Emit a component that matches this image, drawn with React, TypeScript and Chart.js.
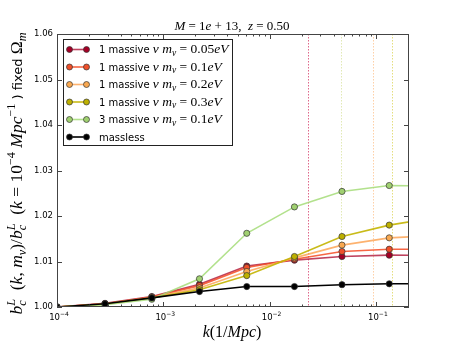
import React, { useEffect, useRef } from 'react';
import { Chart, registerables } from 'chart.js';

Chart.register(...registerables);

// ---- data ----
const kValues = [1e-4, 2.83e-4, 7.8e-4, 2.19e-3, 6.1e-3, 1.714e-2, 4.8e-2, 1.336e-1, 3.73e-1];
const nu1_005 = [1.0, 1.0008, 1.0023, 1.005, 1.009, 1.0103, 1.0111, 1.0114, 1.0113];
const nu1_01 = [1.0, 1.0007, 1.0022, 1.0047, 1.0087, 1.0105, 1.0122, 1.0127, 1.0127];
const nu1_02 = [1.0, 1.0007, 1.0021, 1.0042, 1.0078, 1.0108, 1.0136, 1.0152, 1.0157];
const nu1_03 = [1.0, 1.0006, 1.002, 1.0038, 1.0069, 1.0111, 1.0155, 1.018, 1.0197];
const nu3_01 = [1.0, 1.0005, 1.0017, 1.0062, 1.0162, 1.022, 1.0254, 1.0267, 1.0266];
const massless = [1.0, 1.0007, 1.002, 1.0034, 1.0045, 1.0045, 1.0049, 1.0051, 1.0051];

const nuCounts = ['1', '1', '1', '1', '3'];
const nuMasses = ['0.05', '0.1', '0.2', '0.3', '0.1'];
const freeStreamK = [0.0232, 0.0469, 0.0939, 0.142];
const yTickValues = [1.0, 1.01, 1.02, 1.03, 1.04, 1.05, 1.06];
const xMajorExps = [-4, -3, -2, -1];
const X_MIN = 1e-4;
const X_MAX = 0.205;
const Y_MIN = 1.0;
const Y_MAX = 1.06;

// ---- styles ----
const SANS = '"DejaVu Sans", sans-serif';
const SERIF = '"Liberation Serif", serif';
const seriesValues = [nu1_005, nu1_01, nu1_02, nu1_03, nu3_01, massless];
const lineColors = [
  'rgba(175,20,55,0.8)',
  'rgba(244,75,35,0.85)',
  'rgba(253,170,95,0.9)',
  'rgba(195,180,0,0.9)',
  'rgba(165,220,120,0.85)',
  '#000000',
];
const markerColors = ['#a50026', '#f0502a', '#f9a850', '#bdb000', '#a0d070', '#000000'];
const fsColors = [
  'rgba(210,40,90,0.7)',
  'rgba(200,215,120,0.55)',
  'rgba(253,170,95,0.55)',
  'rgba(210,200,40,0.6)',
];

type Run = { t: string; font: string; dy?: number; stack?: boolean };

function layoutRuns(ctx: CanvasRenderingContext2D, runs: Run[]) {
  const pos: number[] = [];
  let x = 0;
  let stackW = -1;
  runs.forEach((r) => {
    ctx.font = r.font;
    const w = ctx.measureText(r.t).width;
    pos.push(x);
    if (r.stack) {
      stackW = w;
    } else {
      x += stackW >= 0 ? Math.max(w, stackW) : w;
      stackW = -1;
    }
  });
  return { pos, total: x };
}

function drawRuns(
  ctx: CanvasRenderingContext2D,
  runs: Run[],
  x: number,
  y: number,
  align: 'left' | 'center'
) {
  const { pos, total } = layoutRuns(ctx, runs);
  const x0 = align === 'center' ? x - total / 2 : x;
  ctx.textAlign = 'left';
  ctx.textBaseline = 'alphabetic';
  runs.forEach((r, i) => {
    ctx.font = r.font;
    ctx.fillText(r.t, x0 + pos[i], y + (r.dy || 0));
  });
}

const it = (s: number) => `italic ${s}px ${SERIF}`;
const rm = (s: number) => `${s}px ${SERIF}`;
const sans = (s: number) => `${s}px ${SANS}`;

const overlayPlugin = {
  id: 'overlay',
  beforeDatasetsDraw(chart: any) {
    const { ctx, chartArea, scales } = chart;
    const xs = scales.x;
    ctx.save();
    ctx.beginPath();
    ctx.rect(chartArea.left, chartArea.top, chartArea.right - chartArea.left, chartArea.bottom - chartArea.top);
    ctx.clip();
    ctx.setLineDash([1.5, 1.5]);
    ctx.lineWidth = 1;
    freeStreamK.forEach((k, i) => {
      const px = Math.round(xs.getPixelForValue(k)) + 0.5;
      ctx.strokeStyle = fsColors[i];
      ctx.beginPath();
      ctx.moveTo(px, chartArea.top);
      ctx.lineTo(px, chartArea.bottom);
      ctx.stroke();
    });
    ctx.restore();
  },
  afterDraw(chart: any) {
    const { ctx, chartArea, scales } = chart;
    const xs = scales.x;
    const ys = scales.y;
    const L = chartArea.left;
    const R = chartArea.right;
    const T = chartArea.top;
    const B = chartArea.bottom;
    ctx.save();
    // frame
    ctx.strokeStyle = '#444';
    ctx.lineWidth = 1;
    ctx.setLineDash([]);
    ctx.strokeRect(Math.round(L) + 0.5, Math.round(T) + 0.5, Math.round(R - L) - 1, Math.round(B - T) - 1);
    // x ticks
    ctx.beginPath();
    xMajorExps.forEach((e) => {
      const px = Math.round(xs.getPixelForValue(Math.pow(10, e))) + 0.5;
      ctx.moveTo(px, B); ctx.lineTo(px, B - 5);
      ctx.moveTo(px, T); ctx.lineTo(px, T + 5);
      for (let m = 2; m <= 9; m++) {
        const v = m * Math.pow(10, e);
        if (v > X_MAX) break;
        const pm = Math.round(xs.getPixelForValue(v)) + 0.5;
        ctx.moveTo(pm, B); ctx.lineTo(pm, B - 2.5);
        ctx.moveTo(pm, T); ctx.lineTo(pm, T + 2.5);
      }
    });
    yTickValues.forEach((v) => {
      const py = Math.round(ys.getPixelForValue(v)) + 0.5;
      ctx.moveTo(L, py); ctx.lineTo(L + 5, py);
      ctx.moveTo(R, py); ctx.lineTo(R - 5, py);
    });
    ctx.stroke();

    // x tick labels
    ctx.fillStyle = '#000';
    xMajorExps.forEach((e) => {
      const px = xs.getPixelForValue(Math.pow(10, e));
      drawRuns(ctx, [
        { t: '10', font: sans(8.5) },
        { t: '\u2212' + String(-e), font: sans(6), dy: -4 },
      ], px + 2, 320, 'center');
    });

    // x label
    drawRuns(ctx, [
      { t: 'k', font: it(16) },
      { t: '(1/', font: rm(16) },
      { t: 'Mpc', font: it(16) },
      { t: ')', font: rm(16) },
    ], (L + R) / 2 - 1, 337, 'center');

    // title
    drawRuns(ctx, [
      { t: 'M', font: it(13) },
      { t: ' = ', font: rm(13) },
      { t: '1', font: rm(13) },
      { t: 'e', font: it(13) },
      { t: ' + ', font: rm(13) },
      { t: '13,  ', font: rm(13) },
      { t: 'z', font: it(13) },
      { t: ' = ', font: rm(13) },
      { t: '0.50', font: rm(13) },
    ], (L + R) / 2 - 1, 30, 'center');

    // y label (rotated)
    ctx.save();
    ctx.translate(22, (T + B) / 2 + 3);
    ctx.rotate(-Math.PI / 2);
    const S = 17.5;
    drawRuns(ctx, [
      { t: 'b', font: it(S) },
      { t: 'c', font: it(S * 0.7), dy: 3.5, stack: true },
      { t: 'L', font: it(S * 0.7), dy: -7.5 },
      { t: '  (', font: rm(S) },
      { t: 'k', font: it(S) },
      { t: ', ', font: rm(S) },
      { t: 'm', font: it(S) },
      { t: '\u03bd', font: it(S * 0.7), dy: 3.5 },
      { t: ')/', font: rm(S) },
      { t: 'b', font: it(S) },
      { t: 'c', font: it(S * 0.7), dy: 3.5, stack: true },
      { t: 'L', font: it(S * 0.7), dy: -7.5 },
      { t: '  (', font: rm(S) },
      { t: 'k', font: it(S) },
      { t: ' = ', font: rm(S) },
      { t: '10', font: rm(S) },
      { t: '\u22124', font: rm(S * 0.7), dy: -7.5 },
      { t: ' ', font: rm(S) },
      { t: 'Mpc', font: it(S) },
      { t: '\u22121', font: rm(S * 0.7), dy: -7.5 },
      { t: ' ) fixed ', font: sans(13) },
      { t: '\u03a9', font: rm(S) },
      { t: 'm', font: it(S * 0.7), dy: 3.5 },
    ], 0, 0, 'center');
    ctx.restore();

    // legend
    const bx = 63, by = 39, bw = 169, bh = 106;
    ctx.fillStyle = '#fff';
    ctx.fillRect(bx, by, bw, bh);
    ctx.strokeStyle = '#222';
    ctx.lineWidth = 1;
    ctx.strokeRect(bx + 0.5, by + 0.5, bw, bh);
    const rowY0 = 49.5;
    const rowStep = 17.5;
    for (let i = 0; i < seriesValues.length; i++) {
      const cy = rowY0 + i * rowStep;
      ctx.strokeStyle = lineColors[i];
      ctx.lineWidth = 1.6;
      ctx.beginPath();
      ctx.moveTo(69.5, cy);
      ctx.lineTo(86.5, cy);
      ctx.stroke();
      [69.5, 86.5].forEach((mx) => {
        ctx.beginPath();
        ctx.arc(mx, cy, 3, 0, Math.PI * 2);
        ctx.fillStyle = markerColors[i];
        ctx.fill();
        ctx.lineWidth = 0.7;
        ctx.strokeStyle = '#333';
        ctx.stroke();
      });
      ctx.fillStyle = '#000';
      const base = cy + 3.5;
      if (i < nuCounts.length) {
        drawRuns(ctx, [
          { t: nuCounts[i] + ' massive ', font: sans(10) },
          { t: '\u03bd', font: it(13.5) },
          { t: ' m', font: it(13.5) },
          { t: '\u03bd', font: it(9.5), dy: 2.5 },
          { t: ' = ', font: rm(13.5) },
          { t: nuMasses[i], font: rm(13.5) },
          { t: 'eV', font: it(13.5) },
        ], 99, base, 'left');
      } else {
        drawRuns(ctx, [{ t: 'massless', font: sans(10) }], 99, base, 'left');
      }
    }
    ctx.restore();
  },
};

export default function App() {
  const ref = useRef<HTMLCanvasElement | null>(null);
  useEffect(() => {
    document.body.style.margin = '0';
    const canvas = ref.current;
    if (!canvas) return;
    const datasets = seriesValues.map((vals, i) => ({
      label: i < nuCounts.length ? `${nuCounts[i]} massive nu m=${nuMasses[i]}eV` : 'massless',
      data: kValues.map((k, j) => ({ x: k, y: vals[j] })),
      borderColor: lineColors[i],
      backgroundColor: markerColors[i],
      borderWidth: 1.6,
      pointRadius: 3.1,
      pointBorderWidth: 0.7,
      pointBorderColor: '#333',
      pointBackgroundColor: markerColors[i],
      tension: 0,
      order: seriesValues.length - 1 - i,
    }));
    const chart = new Chart(canvas, {
      type: 'line',
      data: { datasets },
      options: {
        animation: false,
        responsive: false,
        events: [],
        layout: { padding: { left: 0, right: 46, top: 34, bottom: 34 } },
        plugins: { legend: { display: false }, tooltip: { enabled: false } },
        scales: {
          x: {
            type: 'logarithmic',
            min: X_MIN,
            max: X_MAX,
            display: false,
          },
          y: {
            type: 'linear',
            min: Y_MIN,
            max: Y_MAX,
            afterFit: (s: any) => { s.width = 57; },
            afterBuildTicks: (s: any) => { s.ticks = yTickValues.map((v) => ({ value: v })); },
            grid: { display: false, drawTicks: false },
            border: { display: false },
            ticks: {
              padding: 4,
              color: '#000',
              font: { family: SANS, size: 8.5 },
              callback: (v: any) => Number(v).toFixed(2),
            },
          },
        },
      },
      plugins: [overlayPlugin],
    } as any);
    return () => chart.destroy();
  }, []);
  return (
    <div style={{ width: 455, height: 341 }}>
      <canvas ref={ref} width={455} height={341} style={{ display: 'block' }} />
    </div>
  );
}
